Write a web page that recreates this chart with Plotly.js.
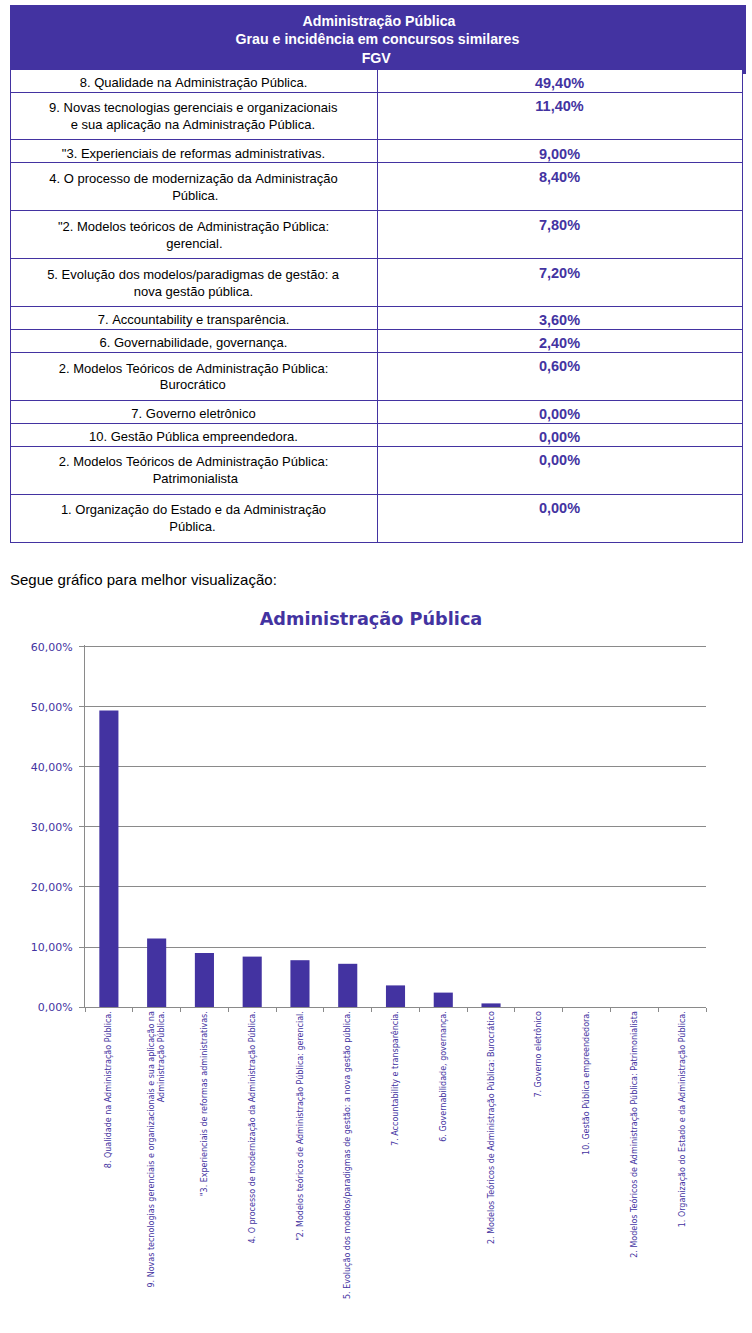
<!DOCTYPE html>
<html>
<head>
<meta charset="utf-8">
<script src="https://cdn.plot.ly/plotly-3.0.1.min.js"></script>
<style>
  html, body { margin: 0; padding: 0; background: #ffffff; }
  #chart { position: absolute; left: 0; top: 0; width: 752px; height: 1333px; }
  #tables { position: absolute; left: 0; top: 0; width: 752px; height: 620px; }
</style>
</head>
<body>
<div id="chart"></div>
<div id="tables"></div>
<script>
// ---------------- DATA ----------------
const headerLines = ["Administração Pública", "Grau e incidência em concursos similares", "FGV"];

const tableLabels = [
  "8. Qualidade na Administração Pública.",
  "9. Novas tecnologias gerenciais e organizacionais<br>e sua aplicação na Administração Pública.",
  "\"3. Experienciais de reformas administrativas.",
  "4. O processo de modernização da Administração<br>Pública.",
  "\"2. Modelos teóricos de Administração Pública:<br>gerencial.",
  "5. Evolução dos modelos/paradigmas de gestão: a<br>nova gestão pública.",
  "7. Accountability e transparência.",
  "6. Governabilidade, governança.",
  "2. Modelos Teóricos de Administração Pública:<br>Burocrático",
  "7. Governo eletrônico",
  "10. Gestão Pública empreendedora.",
  "2. Modelos Teóricos de Administração Pública:<br>Patrimonialista",
  "1. Organização do Estado e da Administração<br>Pública."
];

const chartLabels = [
  "8. Qualidade na Administração Pública.",
  "9. Novas tecnologias gerenciais e organizacionais e sua aplicação na<br>Administração Pública.",
  "\"3. Experienciais de reformas administrativas.",
  "4. O processo de modernização da Administração Pública.",
  "\"2. Modelos teóricos de Administração Pública: gerencial.",
  "5. Evolução dos modelos/paradigmas de gestão: a nova gestão pública.",
  "7. Accountability e transparência.",
  "6. Governabilidade, governança.",
  "2. Modelos Teóricos de Administração Pública: Burocrático",
  "7. Governo eletrônico",
  "10. Gestão Pública empreendedora.",
  "2. Modelos Teóricos de Administração Pública: Patrimonialista",
  "1. Organização do Estado e da Administração Pública."
];

const shares = [0.494, 0.114, 0.090, 0.084, 0.078, 0.072, 0.036, 0.024, 0.006, 0.000, 0.000, 0.000, 0.000];

const chartTitle = "Administração Pública";
const introText = "Segue gráfico para melhor visualização:";

// ---------------- STYLE ----------------
const PURPLE = "#4333A1";
const GRID = "#8a8a8a";
const WHITE = "#ffffff";
const CLEAR = "rgba(0,0,0,0)";
const W = 752, H = 1333, TH = 620;
const FONT = "Liberation Sans";
const F_LABEL = 15.2, F_PCT = 14.5, F_HEAD = 14.2, F_SIMPLE = 13;
const ROW_H = 23, DOUBLE_H = 46, DOUBLE_PCT_B = 28.5;
// rows drawn taller than their text in the original: [height, label baseline, percent baseline]
const tallRows = {2: [37, 23, 24.7], 10: [55, 33, 33.7]};

const NB = "\u00a0";
const nb = s => s.replace(/ /g, NB);
const span = (s, px) => '<span style="font-size:' + px.toFixed(2) + 'px">' + s + '</span>';
const pct = v => (v * 100).toFixed(2).replace(".", ",") + "%";
const py = p => 1 - p / H;
const pyT = p => 1 - p / TH;
const pxX = p => p / W;

const cnv = document.createElement("canvas").getContext("2d");
function measure(t, size, weight) { cnv.font = weight + " " + size + "px '" + FONT + "'"; return cnv.measureText(t).width; }
function centerLines(lines, size, weight) {
  const ws = lines.map(l => measure(l, size, weight));
  const mx = Math.max.apply(null, ws);
  const nbw = measure(NB, size, weight) || size * 0.278;
  return lines.map((l, i) => NB.repeat(Math.max(0, Math.round((mx - ws[i]) / 2 / nbw))) + l);
}

function padCell(main, F, hRow, bTarget) {
  const opts = [];
  let X = (hRow - 16 - 0.212 * F) / 2.205; opts.push({X: X, B: 8 + 2.205 * X, t: 0, k: 1});
  X = (hRow - 16) / 3.505; opts.push({X: X, B: 8 + 2.205 * X, t: 1, k: 1});
  X = (hRow - 16) / 4.805; opts.push({X: X, B: 8 + 3.505 * X, t: 1, k: 2});
  opts.sort((a, b) => Math.abs(a.B - bTarget) - Math.abs(b.B - bTarget));
  const o = opts[0];
  let s = "";
  for (let i = 0; i < o.k; i++) s += NB + "<br>";
  s += span(main, F);
  if (o.t) s += "<br>" + span(NB, 1);
  return {text: s, size: o.X};
}

const emptyHeader = () => ({values: ["", ""], height: 1, fill: {color: CLEAR}, line: {width: 0}});

function buildHeader() {
  return {
    type: "table",
    domain: {x: [pxX(10), pxX(745)], y: [pyT(100), pyT(5)]},
    columnwidth: [1],
    header: {
      values: [[centerLines(headerLines, F_HEAD, "bold").join("<br>")]],
      align: "center",
      height: 64,
      fill: {color: PURPLE},
      line: {color: PURPLE, width: 1},
      font: {family: FONT, size: F_HEAD, color: WHITE, weight: "bold"}
    },
    cells: {values: [[]], height: 0, line: {width: 0}, fill: {color: CLEAR}}
  };
}

function buildFancy() {
  const dummyL = [], leftText = [], leftSize = [], leftLine = [];
  const pctText = [], pctSize = [], pctLine = [], dummyR = [];
  tableLabels.forEach((lab, i) => {
    const lines = lab.split("<br>");
    const p = pct(shares[i]);
    if (tallRows[i]) {
      const hb = tallRows[i];
      const a = padCell(lab, F_LABEL, hb[0], hb[1]);
      leftText.push(a.text); leftSize.push(a.size); leftLine.push(PURPLE); dummyL.push("");
      const b = padCell(p, F_PCT, hb[0], hb[2]);
      pctText.push(b.text); pctSize.push(b.size);
    } else if (lines.length === 1) {
      leftText.push(nb(lab)); leftSize.push(F_LABEL); leftLine.push(PURPLE); dummyL.push("");
      pctText.push(p); pctSize.push(F_PCT);
    } else {
      const cl = centerLines(lines, F_LABEL, "normal");
      leftText.push(nb(cl[0])); leftSize.push(F_LABEL); leftLine.push(PURPLE); dummyL.push("");
      leftText.push(nb(cl[1])); leftSize.push(F_LABEL); leftLine.push(WHITE); dummyL.push("");
      const b = padCell(p, F_PCT, DOUBLE_H, DOUBLE_PCT_B);
      pctText.push(b.text); pctSize.push(b.size);
    }
    pctLine.push(PURPLE); dummyR.push("");
  });
  pctText.push(""); pctSize.push(F_PCT); pctLine.push(WHITE); dummyR.push("");

  const leftTrace = {
    type: "table",
    domain: {x: [pxX(10), pxX(377)], y: [pyT(615), pyT(68)]},
    columnwidth: [1, 366],
    header: emptyHeader(),
    cells: {
      values: [dummyL, leftText],
      align: "center",
      height: ROW_H,
      fill: {color: [PURPLE, WHITE]},
      line: {color: [dummyL.map(() => PURPLE), leftLine], width: 1},
      font: {family: FONT, size: [F_LABEL, leftSize], color: "#000000"}
    }
  };
  const rightTrace = {
    type: "table",
    domain: {x: [pxX(377), pxX(743)], y: [pyT(615), pyT(68)]},
    columnwidth: [365, 1],
    header: emptyHeader(),
    cells: {
      values: [pctText, dummyR],
      align: "center",
      height: ROW_H,
      fill: {color: WHITE},
      line: {color: [pctLine, dummyR.map(() => WHITE)], width: 1},
      font: {family: FONT, size: [pctSize, F_PCT], color: PURPLE, weight: "bold"}
    }
  };
  return [buildHeader(), leftTrace, rightTrace];
}

function buildSimple() {
  const labels = tableLabels.map(l => {
    const ls = l.split("<br>");
    return ls.length > 1 ? centerLines(ls, F_SIMPLE, "normal").map(nb).join("<br>") : nb(l);
  });
  const body = {
    type: "table",
    domain: {x: [pxX(10), pxX(742)], y: [pyT(615), pyT(68)]},
    columnwidth: [367, 365],
    header: emptyHeader(),
    cells: {
      values: [labels, shares.map(pct)],
      align: "center",
      height: ROW_H,
      fill: {color: WHITE},
      line: {color: PURPLE, width: 1},
      font: {family: FONT, size: [F_SIMPLE, F_PCT], color: ["#000000", PURPLE], weight: ["normal", "bold"]}
    }
  };
  return [buildHeader(), body];
}

// ---------------- CHART ----------------
const barTrace = {
  type: "bar",
  x: chartLabels,
  y: shares,
  marker: {color: PURPLE},
  hoverinfo: "skip"
};

const chartLayout = {
  width: W, height: H,
  margin: {l: 0, r: 0, t: 0, b: 0},
  paper_bgcolor: WHITE,
  plot_bgcolor: WHITE,
  separators: ",.",
  showlegend: false,
  bargap: 0.6,
  title: {
    text: "<b>" + chartTitle + "</b>",
    x: 371 / W, xanchor: "center",
    y: py(619), yanchor: "middle",
    xref: "container", yref: "container",
    font: {family: "DejaVu Sans", size: 17.7, color: PURPLE}
  },
  xaxis: {
    domain: [pxX(85), pxX(706)],
    type: "category",
    tickangle: -90,
    tickfont: {family: "DejaVu Sans", size: 8, color: PURPLE},
    showline: true, linecolor: GRID, linewidth: 1,
    ticks: "outside", tickson: "boundaries", ticklen: 4, tickcolor: GRID,
    showgrid: false, zeroline: false,
    automargin: false, fixedrange: true
  },
  yaxis: {
    domain: [py(1007), py(645)],
    range: [0, 0.6033],
    dtick: 0.1,
    tickformat: ".2%",
    tickfont: {family: "DejaVu Sans", size: 11, color: PURPLE},
    ticklabelstandoff: 4,
    showgrid: true, gridcolor: GRID, gridwidth: 1,
    showline: true, linecolor: GRID, linewidth: 1,
    ticks: "outside", ticklen: 5, tickcolor: GRID,
    zeroline: false, automargin: false, fixedrange: true
  },
  annotations: [{
    text: introText,
    xref: "paper", yref: "paper",
    x: pxX(8), xanchor: "left",
    y: py(580), yanchor: "middle",
    showarrow: false,
    font: {family: FONT, size: 15, color: "#000000"}
  }]
};

const cfg = {displayModeBar: false, staticPlot: true};
const tableLayout = {width: W, height: TH, margin: {l: 0, r: 0, t: 0, b: 0}, paper_bgcolor: CLEAR, plot_bgcolor: CLEAR, showlegend: false};
const wait = ms => new Promise(r => setTimeout(r, ms));

function isShown(el) {
  let n = el;
  while (n && n.nodeType === 1) {
    const cs = getComputedStyle(n);
    if (cs.display === "none" || cs.visibility === "hidden" || parseFloat(cs.opacity) === 0) return false;
    n = n.parentNode;
  }
  return true;
}
function tablesOk(gd) {
  const texts = Array.from(gd.querySelectorAll(".cell-text")).filter(t => {
    if ((t.textContent || "").indexOf("Qualidade") < 0) return false;
    const b = t.getBoundingClientRect();
    return b.height > 0 && b.width > 50 && b.top > 55 && b.top < 130 && isShown(t);
  });
  const rects = Array.from(gd.querySelectorAll(".cell-rect")).filter(r => {
    const b = r.getBoundingClientRect();
    return b.height > 15 && b.width > 100 && b.top > 55 && b.top < 600;
  });
  return texts.length > 0 && rects.length >= 13;
}

async function drawAll() {
  await Plotly.newPlot("chart", [barTrace], chartLayout, cfg);
  const gd = document.getElementById("tables");
  try { await Plotly.newPlot(gd, buildFancy(), tableLayout, cfg); } catch (e) {}
  await wait(60);
  if (tablesOk(gd)) return;
  try { Plotly.purge(gd); gd.innerHTML = ""; await Plotly.newPlot(gd, buildSimple(), tableLayout, cfg); } catch (e) {}
  await wait(60);
  if (tablesOk(gd)) return;
  try { Plotly.purge(gd); } catch (e) {}
  gd.innerHTML = "";
  const hd = document.createElement("div");
  const bd = document.createElement("div");
  hd.style.cssText = "position:absolute;left:0;top:0;width:752px;height:80px";
  bd.style.cssText = "position:absolute;left:0;top:68px;width:752px;height:545px";
  gd.appendChild(hd); gd.appendChild(bd);
  const parts = buildSimple();
  parts[0].domain = {x: [pxX(10), pxX(745)], y: [0, 1 - 5 / 80]};
  parts[1].domain = {x: [pxX(10), pxX(742)], y: [0, 1]};
  await Plotly.newPlot(hd, [parts[0]], Object.assign({}, tableLayout, {height: 80}), cfg);
  await Plotly.newPlot(bd, [parts[1]], Object.assign({}, tableLayout, {height: 545}), cfg);
}
drawAll();
</script>
</body>
</html>
